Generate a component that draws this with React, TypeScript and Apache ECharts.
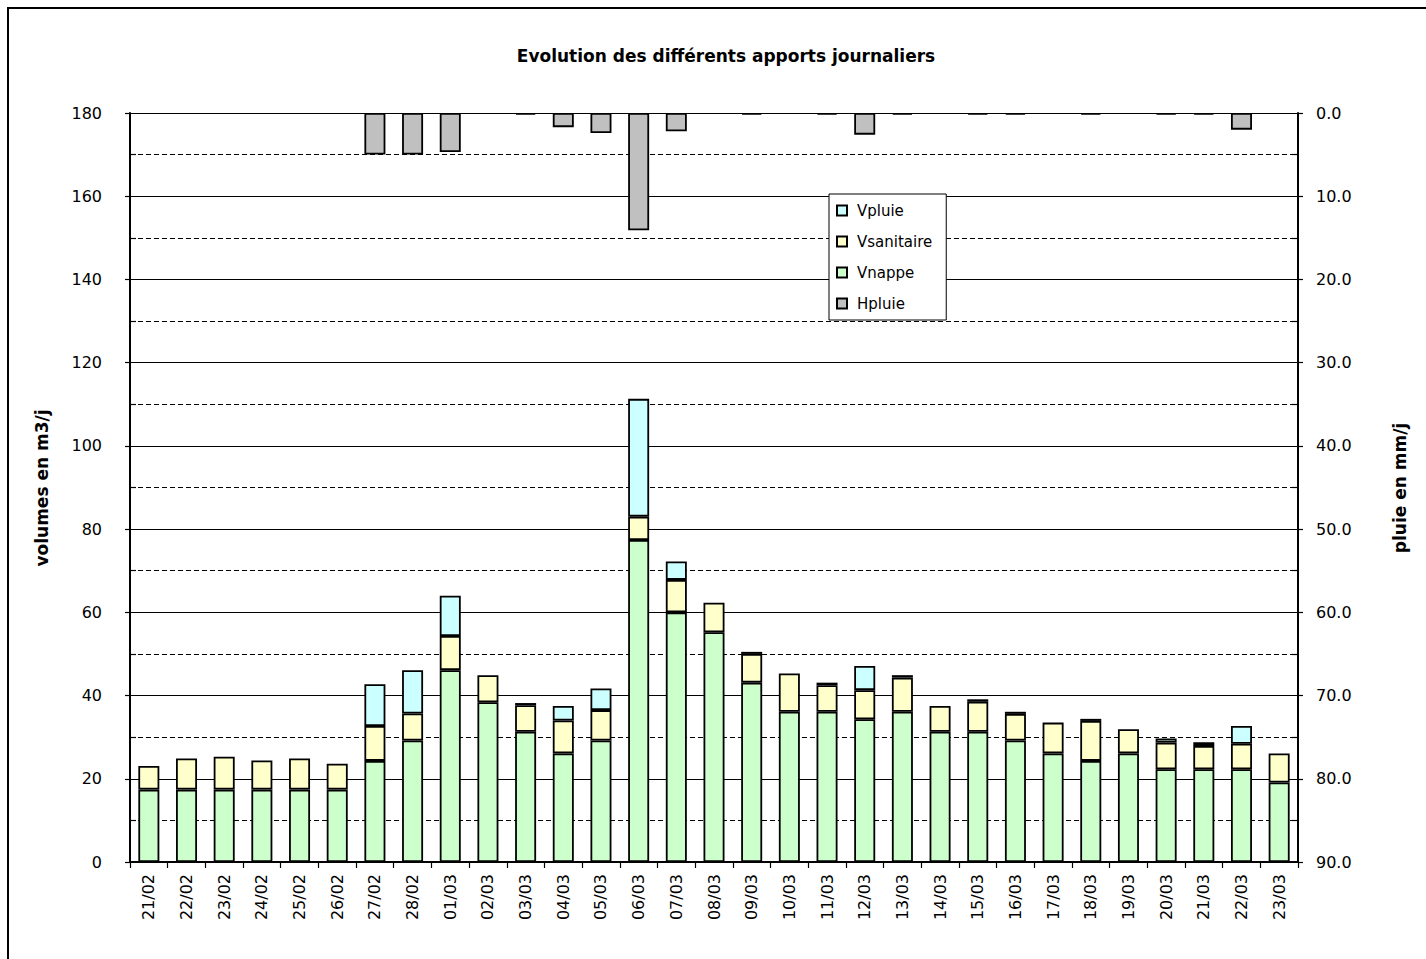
import React, { useEffect, useRef } from "react";
import * as echarts from "echarts";

const categories = [
  "21/02", "22/02", "23/02", "24/02", "25/02", "26/02", "27/02", "28/02",
  "01/03", "02/03", "03/03", "04/03", "05/03", "06/03", "07/03", "08/03",
  "09/03", "10/03", "11/03", "12/03", "13/03", "14/03", "15/03", "16/03",
  "17/03", "18/03", "19/03", "20/03", "21/03", "22/03", "23/03",
];

const vnappe = [
  17.4, 17.4, 17.4, 17.4, 17.4, 17.4, 24.3, 29.2,
  46.1, 38.4, 31.3, 26.1, 29.2, 77.4, 60.0, 55.2,
  43.1, 36.1, 36.1, 34.3, 36.1, 31.3, 31.3, 29.2,
  26.1, 24.3, 26.1, 22.3, 22.3, 22.3, 19.1,
];

const vsanitaire = [
  5.7, 7.5, 7.9, 7.0, 7.5, 6.2, 8.4, 6.5,
  8.2, 6.5, 6.4, 7.9, 7.3, 5.6, 7.8, 7.1,
  6.9, 9.2, 6.4, 7.0, 8.2, 6.2, 7.2, 6.4,
  7.4, 9.6, 5.8, 6.4, 5.6, 6.1, 7.0,
];

const vpluie = [
  null, null, null, null, null, null, 10.0, 10.4,
  9.7, null, 0.5, 3.5, 5.2, 28.3, 4.4, null,
  0.5, null, 0.6, 5.8, 0.6, null, 0.6, 0.5,
  null, 0.5, null, 1.0, 0.9, 4.3, null,
];

const hpluie = [
  null, null, null, null, null, null, 5.0, 5.0,
  4.7, null, 0.2, 1.7, 2.4, 14.1, 2.2, null,
  0.2, null, 0.2, 2.6, 0.2, null, 0.2, 0.2,
  null, 0.2, null, 0.2, 0.2, 2.0, null,
];

const leftTicks = { min: 0, max: 180, interval: 20 };
const rightTicks = { min: 0, max: 90, interval: 10 };

const FONT = "DejaVu Sans";

export default function App() {
  const ref = useRef<HTMLDivElement>(null);

  useEffect(() => {
    if (!ref.current) return;
    const chart = echarts.init(ref.current, undefined, { renderer: "svg" });
    const barBorder = { borderColor: "#000", borderWidth: 1.8 };
    chart.setOption({
      animation: false,
      backgroundColor: "#fff",
      textStyle: { fontFamily: FONT, color: "#000" },
      title: {
        text: "Evolution des différents apports journaliers",
        left: 721,
        top: 42,
        textAlign: "center",
        textStyle: { fontFamily: FONT, fontSize: 17, fontWeight: "bold", color: "#000" },
      },
      legend: {
        data: ["Vpluie", "Vsanitaire", "Vnappe", "Hpluie"],
        orient: "vertical",
        left: 829,
        top: 194,
        padding: [8, 14, 8, 7],
        itemWidth: 10,
        itemHeight: 10,
        itemGap: 14,
        backgroundColor: "#fff",
        borderColor: "#000",
        borderWidth: 1,
        borderRadius: 0,
        icon: "rect",
        textStyle: { fontFamily: FONT, fontSize: 15, color: "#000", lineHeight: 17, padding: [0, 0, 0, 5] },
      },
      grid: { left: 130, right: 128, top: 113, bottom: 97, containLabel: false },
      xAxis: {
        type: "category",
        data: categories,
        boundaryGap: true,
        axisLine: { lineStyle: { color: "#000", width: 2 } },
        axisTick: { show: true, alignWithLabel: false, length: 6, lineStyle: { color: "#000", width: 1.2 } },
        axisLabel: { interval: 0, rotate: 90, fontSize: 16, color: "#000", fontFamily: FONT, margin: 12 },
        splitLine: { show: false },
      },
      yAxis: [
        {
          type: "value",
          position: "left",
          min: leftTicks.min,
          max: leftTicks.max,
          interval: leftTicks.interval,
          axisLine: { show: true, lineStyle: { color: "#000", width: 2 } },
          axisTick: { show: true, length: 5, lineStyle: { color: "#000", width: 1.2 } },
          minorTick: { show: true, splitNumber: 2, length: -6, lineStyle: { color: "#000", width: 1.2 } },
          axisLabel: { fontSize: 16, color: "#000", fontFamily: FONT, margin: 28 },
          splitLine: { show: true, lineStyle: { color: "#000", width: 1, type: "solid" } },
          minorSplitLine: { show: true, lineStyle: { color: "#000", width: 1, type: [5, 3] } },
        },
        {
          type: "value",
          position: "right",
          inverse: true,
          min: rightTicks.min,
          max: rightTicks.max,
          interval: rightTicks.interval,
          axisLine: { show: true, lineStyle: { color: "#000", width: 2 } },
          axisTick: { show: true, length: 5, lineStyle: { color: "#000", width: 1.2 } },
          minorTick: { show: true, splitNumber: 2, length: -6, lineStyle: { color: "#000", width: 1.2 } },
          axisLabel: {
            fontSize: 16,
            color: "#000",
            fontFamily: FONT,
            margin: 18,
            formatter: (v: number) => v.toFixed(1),
          },
          splitLine: { show: false },
          minorSplitLine: { show: false },
        },
      ],
      series: [
        {
          name: "Vnappe",
          type: "bar",
          stack: "v",
          yAxisIndex: 0,
          barWidth: 21,
          barGap: "-100%",
          data: vnappe,
          itemStyle: { color: "#CCFFCC", ...barBorder },
        },
        {
          name: "Vsanitaire",
          type: "bar",
          stack: "v",
          yAxisIndex: 0,
          barWidth: 21,
          barGap: "-100%",
          data: vsanitaire,
          itemStyle: { color: "#FFFFCC", ...barBorder },
        },
        {
          name: "Vpluie",
          type: "bar",
          stack: "v",
          yAxisIndex: 0,
          barWidth: 21,
          barGap: "-100%",
          data: vpluie,
          itemStyle: { color: "#CCFFFF", ...barBorder },
        },
        {
          name: "Hpluie",
          type: "bar",
          yAxisIndex: 1,
          barWidth: 21,
          barGap: "-100%",
          data: hpluie,
          itemStyle: { color: "#C0C0C0", ...barBorder },
        },
      ],
      graphic: [
        {
          type: "rect",
          silent: true,
          shape: { x: 8, y: 8, width: 1440, height: 1000 },
          style: { fill: "none", stroke: "#000", lineWidth: 2 },
          z: 100,
        },
        {
          type: "text",
          x: 42,
          y: 488,
          rotation: Math.PI / 2,
          style: {
            text: "volumes en m3/j",
            fontFamily: FONT,
            fontSize: 17,
            fontWeight: "bold",
            fill: "#000",
            textAlign: "center",
            textVerticalAlign: "middle",
          },
        },
        {
          type: "text",
          x: 1400,
          y: 488,
          rotation: Math.PI / 2,
          style: {
            text: "pluie en mm/j",
            fontFamily: FONT,
            fontSize: 17,
            fontWeight: "bold",
            fill: "#000",
            textAlign: "center",
            textVerticalAlign: "middle",
          },
        },
      ],
    });
    return () => chart.dispose();
  }, []);

  return (
    <div
      ref={ref}
      style={{ position: "fixed", left: 0, top: 0, width: 1426, height: 959 }}
    />
  );
}
